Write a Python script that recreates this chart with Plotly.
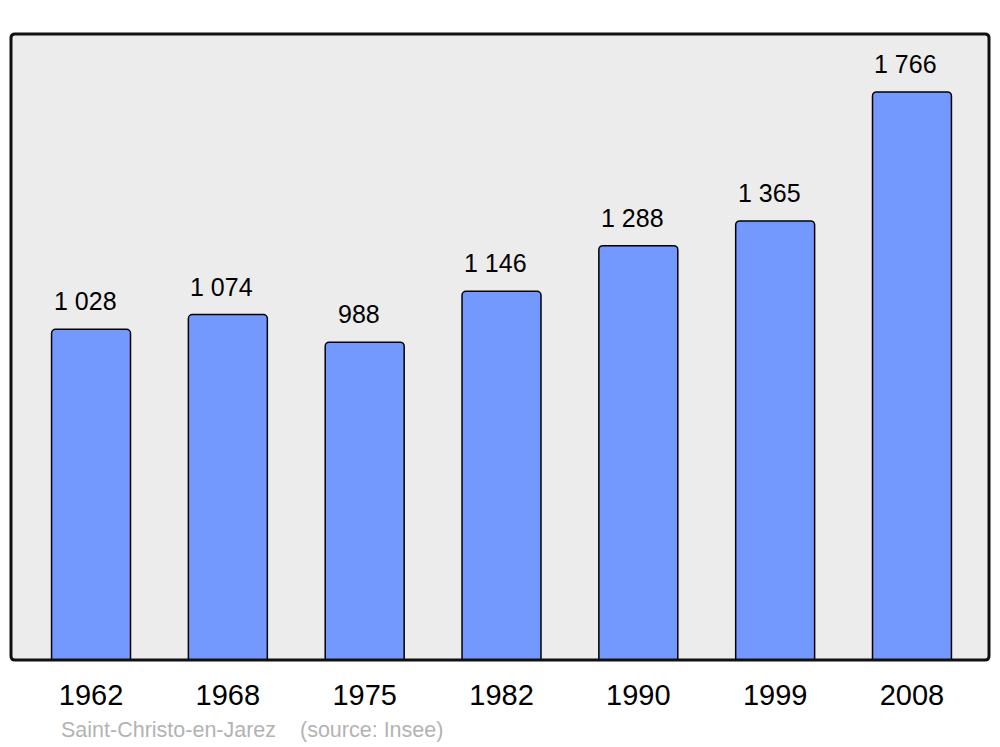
import plotly.graph_objects as go

years = ["1962", "1968", "1975", "1982", "1990", "1999", "2008"]
population = [1028, 1074, 988, 1146, 1288, 1365, 1766]
labels = ["1 028", "1 074", "988", "1 146", "1 288", "1 365", "1 766"]
commune = "Saint-Christo-en-Jarez"
source = "(source: Insee)"

W, H = 1000, 747
ml, mr, mt, mb = 11, 11, 34, 87
pw, ph = W - ml - mr, H - mt - mb
FONT = "Liberation Sans, Arial, sans-serif"

pos = list(range(len(years)))

fig = go.Figure()
fig.add_trace(go.Bar(
    x=pos, y=population, width=0.577,
    marker=dict(color="#7399ff", line=dict(color="#000000", width=1.5), cornerradius=4),
    hoverinfo="skip",
))

for p, v, t in zip(pos, population, labels):
    fig.add_annotation(x=p, y=v, xref="x", yref="y", text=t, showarrow=False,
                       yanchor="bottom", xshift=-6, yshift=12,
                       font=dict(family=FONT, size=25, color="#000"))

# rounded frame around plot area
rx, ry = 4 / pw, 4 / ph
path = (f"M {rx} 0 L {1-rx} 0 Q 1 0 1 {ry} L 1 {1-ry} Q 1 1 {1-rx} 1 "
        f"L {rx} 1 Q 0 1 0 {1-ry} L 0 {ry} Q 0 0 {rx} 0 Z")
fig.add_shape(type="path", path=path, xref="paper", yref="paper",
              line=dict(color="#111111", width=3), layer="above")

def px_x(x):
    return (x - ml) / pw

def px_y(y):
    return (H - mb - y) / ph

fig.add_annotation(x=px_x(59), y=px_y(730), xref="paper", yref="paper", text=commune,
                   showarrow=False, xanchor="left", yanchor="middle",
                   font=dict(family=FONT, size=21.5, color="#b3b3b3"))
fig.add_annotation(x=px_x(298), y=px_y(730), xref="paper", yref="paper", text=source,
                   showarrow=False, xanchor="left", yanchor="middle",
                   font=dict(family=FONT, size=21.5, color="#b3b3b3"))

fig.update_layout(
    width=W, height=H,
    margin=dict(l=ml, r=mr, t=mt, b=mb, pad=0),
    paper_bgcolor="#ffffff", plot_bgcolor="#ececec",
    showlegend=False,
    xaxis=dict(range=[-0.585, 6.563], showgrid=False, zeroline=False,
               showline=False, ticks="outside", ticklen=9, tickcolor="rgba(0,0,0,0)",
               tickmode="array", tickvals=pos, ticktext=years,
               tickfont=dict(family=FONT, size=29, color="#000")),
    yaxis=dict(range=[0, 1946], showgrid=False, zeroline=False, showline=False,
               showticklabels=False, ticks=""),
)

fig.write_html("out.html", config={"displayModeBar": False},
               post_script="document.body.style.margin='0';")
